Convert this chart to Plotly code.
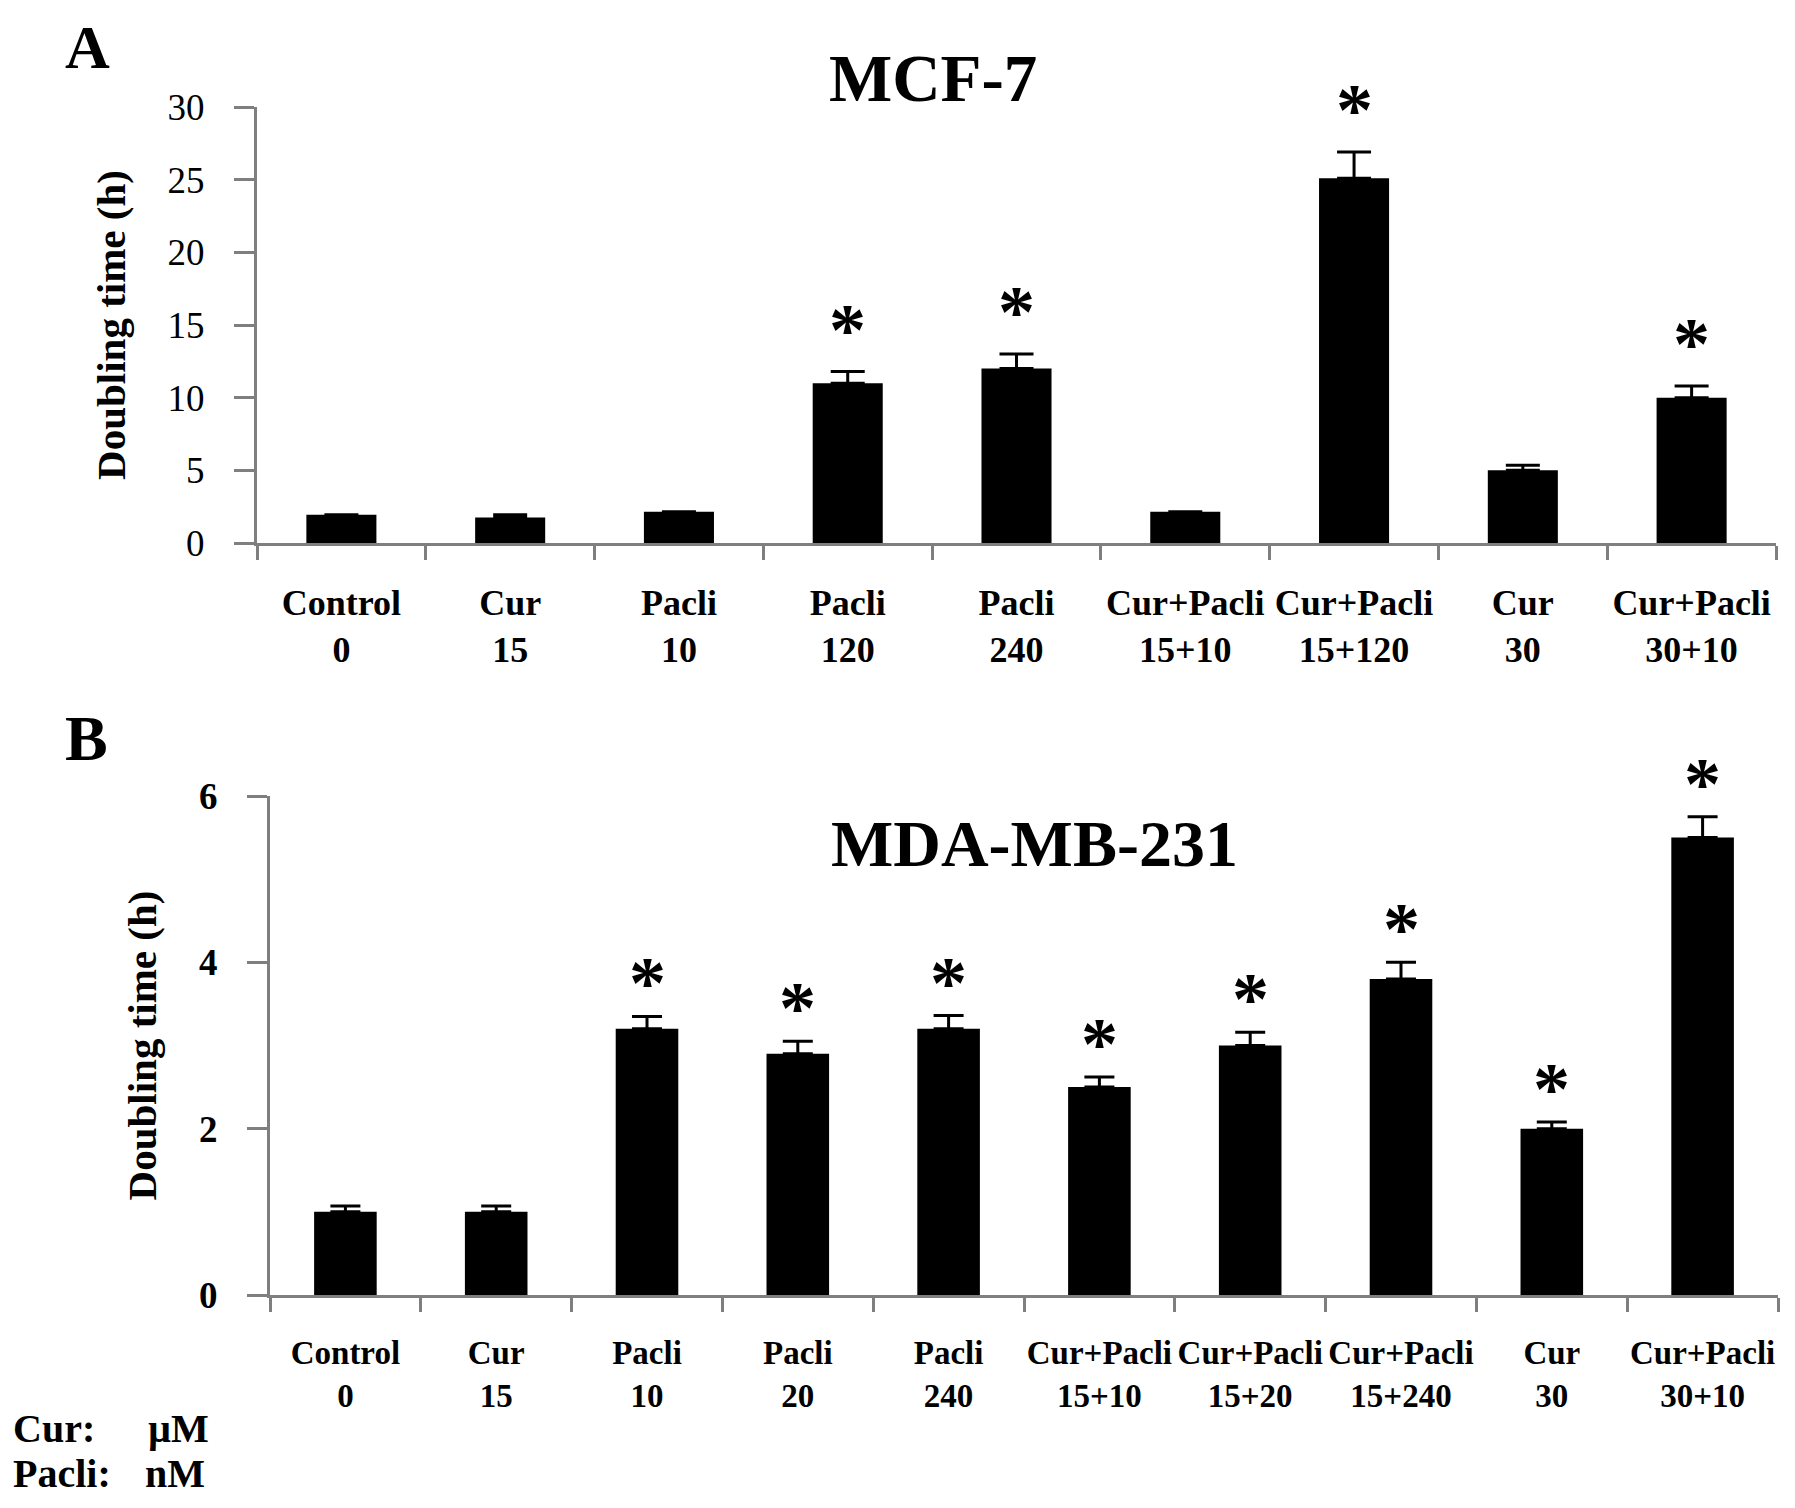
import plotly.graph_objects as go

# ---------------- data ----------------
treat_a = ["Control", "Cur", "Pacli", "Pacli", "Pacli", "Cur+Pacli", "Cur+Pacli", "Cur", "Cur+Pacli"]
dose_a = ["0", "15", "10", "120", "240", "15+10", "15+120", "30", "30+10"]
vals_a = [1.95, 1.75, 2.15, 11.0, 12.0, 2.15, 25.1, 5.0, 10.0]
err_a = [0, 0.2, 0, 0.8, 1.0, 0, 1.8, 0.35, 0.8]
sig_a = [False, False, False, True, True, False, True, False, True]

treat_b = ["Control", "Cur", "Pacli", "Pacli", "Pacli", "Cur+Pacli", "Cur+Pacli", "Cur+Pacli", "Cur", "Cur+Pacli"]
dose_b = ["0", "15", "10", "20", "240", "15+10", "15+20", "15+240", "30", "30+10"]
vals_b = [1.0, 1.0, 3.2, 2.9, 3.2, 2.5, 3.0, 3.8, 2.0, 5.5]
err_b = [0.07, 0.07, 0.15, 0.15, 0.16, 0.12, 0.16, 0.2, 0.08, 0.25]
sig_b = [False, False, True, True, True, True, True, True, True, True]

title_a = "MCF-7"
title_b = "MDA-MB-231"
y_title = "Doubling time (h)"

# ---------------- figure ----------------
FONT = "Liberation Serif, Times New Roman, serif"
AXC = "#7f7f7f"
PAGE_W, PAGE_H = 1795, 1508
BODY = 8                      # default page body margin
W, H = PAGE_W - 2 * BODY, PAGE_H - 2 * BODY


def fx(x):
    """page pixel x -> paper fraction"""
    return (x - BODY) / W


def fy(y):
    """page pixel y (from top) -> paper fraction (from bottom)"""
    return (H - (y - BODY)) / H


cats_a = [f"a{i}" for i in range(len(vals_a))]
cats_b = [f"b{i}" for i in range(len(vals_b))]
ticks_a = [f"{t}<br>{d}" for t, d in zip(treat_a, dose_a)]
ticks_b = [f"{t}<br>{d}" for t, d in zip(treat_b, dose_b)]

fig = go.Figure()
fig.add_trace(go.Bar(
    x=cats_a, y=vals_a, marker=dict(color="black", line=dict(width=0)),
    error_y=dict(type="data", array=err_a, arrayminus=[0] * len(err_a), symmetric=False,
                 color="black", thickness=3, width=17),
    xaxis="x", yaxis="y", showlegend=False))
fig.add_trace(go.Bar(
    x=cats_b, y=vals_b, marker=dict(color="black", line=dict(width=0)),
    error_y=dict(type="data", array=err_b, arrayminus=[0] * len(err_b), symmetric=False,
                 color="black", thickness=3, width=15),
    xaxis="x2", yaxis="y2", showlegend=False))

xcommon = dict(type="category", tickson="boundaries", ticks="outside", ticklen=14,
               tickwidth=2.5, tickcolor=AXC, showline=True, linecolor=AXC, linewidth=3,
               showgrid=False, zeroline=False, fixedrange=True, tickangle=0,
               automargin=False, ticklabelstandoff=26)
ycommon = dict(ticks="outside", ticklen=20, tickwidth=2.5, tickcolor=AXC, showline=True,
               linecolor=AXC, linewidth=3, showgrid=False, zeroline=False,
               ticklabelstandoff=22, automargin=False,
               title=dict(text=y_title, standoff=30,
                          font=dict(family=FONT, size=41, color="black", weight="bold")))

fig.update_layout(
    width=W, height=H, autosize=False,
    margin=dict(l=0, r=0, t=0, b=0, pad=0),
    paper_bgcolor="white", plot_bgcolor="white",
    bargap=0.585,
    xaxis=dict(domain=[fx(257), fx(1776)], anchor="y", range=[-0.5, len(vals_a) - 0.5],
               tickvals=cats_a, ticktext=ticks_a,
               tickfont=dict(family=FONT, size=36, color="black", weight="bold"), **xcommon),
    yaxis=dict(domain=[fy(543), fy(107)], anchor="x", range=[0, 30], dtick=5,
               tickfont=dict(family=FONT, size=37, color="black"), **ycommon),
    xaxis2=dict(domain=[fx(270), fx(1778)], anchor="y2", range=[-0.5, len(vals_b) - 0.5],
                tickvals=cats_b, ticktext=ticks_b,
                tickfont=dict(family=FONT, size=33, color="black", weight="bold"), **xcommon),
    yaxis2=dict(domain=[fy(1295), fy(796)], anchor="x2", range=[0, 6], dtick=2,
                tickfont=dict(family=FONT, size=37, color="black", weight="bold"), **ycommon),
)

annots = []
for c, v, e, s in zip(cats_a, vals_a, err_a, sig_a):
    if s:
        annots.append(dict(x=c, y=v + e, xref="x", yref="y", text="*", showarrow=False,
                           yanchor="middle", yshift=42,
                           font=dict(family=FONT, size=74, color="black", weight="bold")))
for c, v, e, s in zip(cats_b, vals_b, err_b, sig_b):
    if s:
        annots.append(dict(x=c, y=v + e, xref="x2", yref="y2", text="*", showarrow=False,
                           yanchor="middle", yshift=33,
                           font=dict(family=FONT, size=74, color="black", weight="bold")))


def ptext(text, x, y, size, xanchor="center"):
    return dict(text=text, x=fx(x), y=fy(y), xref="paper", yref="paper",
                showarrow=False, xanchor=xanchor, yanchor="middle",
                font=dict(family=FONT, size=size, color="black", weight="bold"))


annots += [
    ptext(title_a, 933, 78, 67),
    ptext(title_b, 1034, 843, 66),
    ptext("A", 87, 47, 62),
    ptext("B", 86, 738, 64),
    ptext("Cur:", 11, 1428, 40, "left"),
    ptext("µM", 146, 1428, 40, "left"),
    ptext("Pacli:", 11, 1473, 40, "left"),
    ptext("nM", 143, 1473, 40, "left"),
]
fig.update_layout(annotations=annots)

fig.write_html("out.html")
